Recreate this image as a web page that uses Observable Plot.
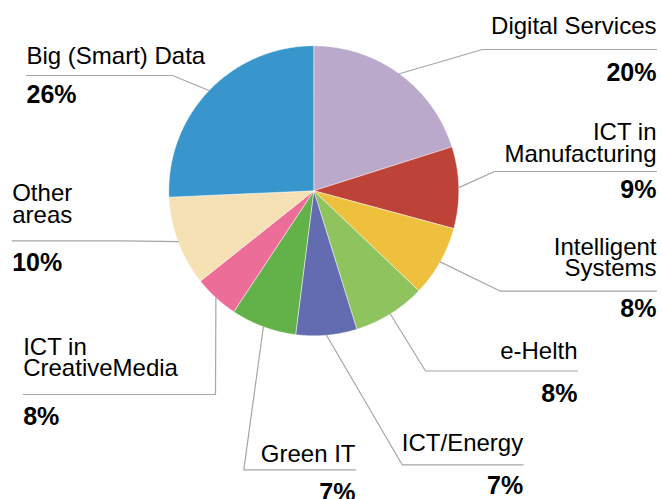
<!DOCTYPE html>
<html>
<head>
<meta charset="utf-8">
<script src="https://cdn.jsdelivr.net/npm/d3@7"></script>
<script src="https://cdn.jsdelivr.net/npm/@observablehq/plot@0.6"></script>
<style>
  html, body { margin: 0; padding: 0; background: #ffffff; }
  #chart svg { display: block; }
</style>
</head>
<body>
<div id="chart"></div>
<script>
// ---- data ----
const categories = ["Digital Services", "ICT in Manufacturing", "Intelligent Systems", "e-Helth", "ICT/Energy", "Green IT", "ICT in CreativeMedia", "Other areas", "Big (Smart) Data"];
const shares = [20.1, 9.1, 7.9, 8.1, 6.8, 7.3, 5.0, 10.0, 25.7];
const percentLabels = ["20%", "9%", "8%", "8%", "7%", "7%", "8%", "10%", "26%"];
const labelLines = [["Digital Services"], ["ICT in", "Manufacturing"], ["Intelligent", "Systems"], ["e-Helth"], ["ICT/Energy"], ["Green IT"], ["ICT in", "CreativeMedia"], ["Other", "areas"], ["Big (Smart) Data"]];
const colors = ["#bba9cb", "#bd4338", "#eec03d", "#8fc35e", "#636cb0", "#62b149", "#ec6d97", "#f5e1b3", "#3896cc"];

// ---- layout (label placement, pixels) ----
const W = 663, H = 499;
const cx = 313.3, cy = 190.3, R = 145;
const labelLayout = [
  {anchor: "end",   x: 656,   lines: [33],           rule: 49,    elbow: 482,   pct: 80},
  {anchor: "end",   x: 656,   lines: [139.5, 161],   rule: 171,   elbow: 494,   pct: 197},
  {anchor: "end",   x: 656,   lines: [254, 275.5],   rule: 290.7, elbow: 500,   pct: 316.7},
  {anchor: "end",   x: 577,   lines: [358.5],        rule: 370.5, elbow: 425,   pct: 401},
  {anchor: "end",   x: 522.7, lines: [450],          rule: 464.3, elbow: 401.7, pct: 493.3},
  {anchor: "end",   x: 355,   lines: [461.7],        rule: 469.3, elbow: 243.3, pct: 500},
  {anchor: "start", x: 22.7,  lines: [354, 375.5],   rule: 394,   elbow: 215,   pct: 424.3},
  {anchor: "start", x: 11.7,  lines: [200.8, 222.3], rule: 240.3, elbow: 121.7, pct: 270},
  {anchor: "start", x: 26,    lines: [63],           rule: 75,    elbow: 172,   pct: 102}
];

// ---- derived geometry ----
const arcs = d3.pie().sort(null).value(d => d)(shares);
const pt = (a, r) => ({x: cx + r * Math.sin(a), y: cy - r * Math.cos(a)});

const slicePoints = [];
arcs.forEach((p, i) => {
  const name = categories[i];
  slicePoints.push({name, x: cx, y: cy});
  const n = Math.max(2, Math.ceil((p.endAngle - p.startAngle) / (Math.PI / 360)));
  for (let k = 0; k <= n; k++) {
    const a = p.startAngle + (p.endAngle - p.startAngle) * k / n;
    slicePoints.push({name, ...pt(a, R)});
  }
  slicePoints.push({name, x: cx, y: cy});
});

const leaderPoints = [];
arcs.forEach((p, i) => {
  const name = categories[i];
  const L = labelLayout[i];
  const mid = (p.startAngle + p.endAngle) / 2;
  leaderPoints.push({name, ...pt(mid, R)});
  leaderPoints.push({name, x: L.elbow, y: L.rule});
  leaderPoints.push({name, x: L.x, y: L.rule});
});

const textRows = [];
labelLines.forEach((lines, i) => {
  const L = labelLayout[i];
  lines.forEach((t, j) => textRows.push({t, x: L.x, y: L.lines[j], anchor: L.anchor}));
});
const pctRows = percentLabels.map((t, i) => ({t, x: labelLayout[i].x, y: labelLayout[i].pct, anchor: labelLayout[i].anchor}));

const font = "Liberation Sans, Arial, sans-serif";

const chart = Plot.plot({
  width: W,
  height: H,
  margin: 0,
  x: {domain: [0, W], range: [0, W], axis: null},
  y: {domain: [0, H], range: [0, H], axis: null},
  color: {domain: categories, range: colors},
  style: {fontFamily: font, background: "#ffffff", overflow: "visible"},
  marks: [
    Plot.line(slicePoints, {x: "x", y: "y", z: "name", fill: "name", stroke: "#ffffff", strokeWidth: 0.6, strokeOpacity: 0.8, curve: "linear"}),
    Plot.line(leaderPoints, {x: "x", y: "y", z: "name", stroke: "#a6a6a6", strokeWidth: 1.2}),
    Plot.text(textRows, {filter: d => d.anchor === "start", x: "x", y: "y", text: "t", textAnchor: "start", lineAnchor: "bottom", fontSize: 24, fontFamily: font, fill: "#000000"}),
    Plot.text(textRows, {filter: d => d.anchor === "end", x: "x", y: "y", text: "t", textAnchor: "end", lineAnchor: "bottom", fontSize: 24, fontFamily: font, fill: "#000000"}),
    Plot.text(pctRows, {filter: d => d.anchor === "start", x: "x", y: "y", text: "t", textAnchor: "start", lineAnchor: "bottom", fontSize: 25, fontWeight: "bold", fontFamily: font, fill: "#000000"}),
    Plot.text(pctRows, {filter: d => d.anchor === "end", x: "x", y: "y", text: "t", textAnchor: "end", lineAnchor: "bottom", fontSize: 25, fontWeight: "bold", fontFamily: font, fill: "#000000"})
  ]
});
document.getElementById("chart").appendChild(chart);
</script>
</body>
</html>
